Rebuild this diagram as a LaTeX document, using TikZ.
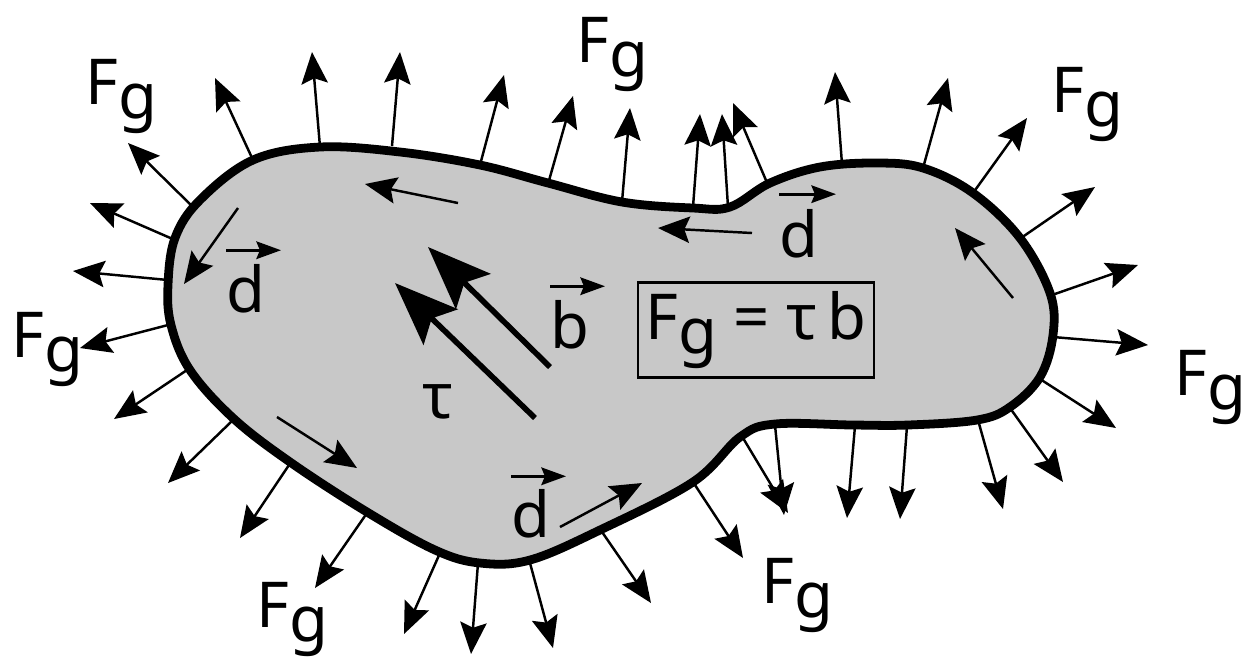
\documentclass[tikz,border=0pt]{standalone}
\usepackage{fontspec}
\setmainfont{Noto Sans}
\usetikzlibrary{arrows.meta}
\definecolor{blobgray}{RGB}{200,200,200}
\newcommand\Fg{F\raisebox{-4pt}{g}}

\begin{document}
\begin{tikzpicture}[
  x=0.1mm, y=-0.1mm,
  font=\fontsize{18}{21}\selectfont,
  blob/.style={draw,line width=2.5pt,fill=blobgray},
  force/.style={-{Stealth[length=9pt,width=7.5pt,inset=1.5pt]},line width=0.7pt},
  shear/.style={-{Stealth[length=18pt,width=14pt,inset=3.5pt]},line width=1.6pt},
  vecarr/.style={-{Stealth[length=7pt,width=5pt,inset=1pt]},line width=0.8pt},
  lbl/.style={inner sep=0pt,anchor=base west},
  eqbox/.style={draw,line width=0.6pt,minimum width=23.6mm,minimum height=9.5mm,inner sep=0pt}
]
  \useasboundingbox (0,0) rectangle (1243,662);

  \draw[blob] plot[smooth cycle,tension=0.6] coordinates {
    (168,285) (175,238) (200,200) (253,160) (320,147) (400,152) (480,165)
    (548,183) (622,202) (693,208) (730,207) (770,183) (820,167) (877,163)
    (923,168) (973,193) (1020,238) (1050,293) (1053,335) (1040,377)
    (1010,407) (977,420) (908,425) (853,425) (775,424) (740,437) (693,482)
    (600,530) (530,560) (480,563) (435,550) (367,512) (290,462) (233,418)
    (190,370) (171,325)};

  \foreach \xa/\ya/\xb/\yb in {
    253/160/215/78, 320/147/312/52, 392/146/400/52, 195/209/128/143,
    175/240/90/203, 168/280/73/271, 168/325/80/348, 190/368/114/419,
    233/420/168/483, 291/462/240/538, 367/513/315/588, 440/553/404/634,
    478/563/471/654, 530/563/553/648, 600/529/651/603, 693/482/743/558,
    743/438/788/513, 775/425/784/515, 855/426/847/518, 907/426/900/519,
    978/420/1003/509, 1010/408/1063/482, 1040/379/1116/428, 1053/337/1148/345,
    1052/295/1138/265, 1021/238/1095/187, 973/193/1027/118, 923/168/948/78,
    842/164/835/72, 480/165/504/75, 548/184/573/96, 622/202/630/108,
    693/207/700/114, 728/207/722/114, 768/185/733/103}
    \draw[force] (\xa,\ya) -- (\xb,\yb);

  \foreach \xa/\ya/\xb/\yb in {
    458/203/365/184, 752/233/658/228, 238/208/184/284,
    1013/298/955/228, 277/417/357/468, 560/527/642/483}
    \draw[force] (\xa,\ya) -- (\xb,\yb);

  \draw[shear] (535,418) -- (395,283);
  \draw[shear] (550,367) -- (428,247);

  \node[lbl] (fgtl) at (85,104) {\Fg};
  \node[lbl] (fgt) at (576,62) {\Fg};
  \node[lbl] (fgtr) at (1051,112) {\Fg};
  \node[lbl] (fgl) at (11,357) {\Fg};
  \node[lbl] (fgr) at (1174,395) {\Fg};
  \node[lbl] (fgbl) at (256,627) {\Fg};
  \node[lbl] (fgb) at (761,603) {\Fg};

  \node[lbl] (dleft) at (226,312) {d};
  \node[lbl] (dright) at (779,257) {d};
  \node[lbl] (dbot) at (511,537) {d};
  \node[lbl] (bvec) at (550,348) {b};
  \node[lbl] (tau) at (422,418) {τ};
  \node[eqbox] (law) at (756,330) {\Fg\ = τ\,b};

  \draw[vecarr] ([yshift=3.7pt]dleft.north west) -- ++(55,0);
  \draw[vecarr] ([yshift=4pt]dright.north west) -- ++(57,0);
  \draw[vecarr] ([yshift=3.4pt]dbot.north west) -- ++(55,0);
  \draw[vecarr] ([yshift=3.7pt]bvec.north west) -- ++(55,0);
\end{tikzpicture}
\end{document}
